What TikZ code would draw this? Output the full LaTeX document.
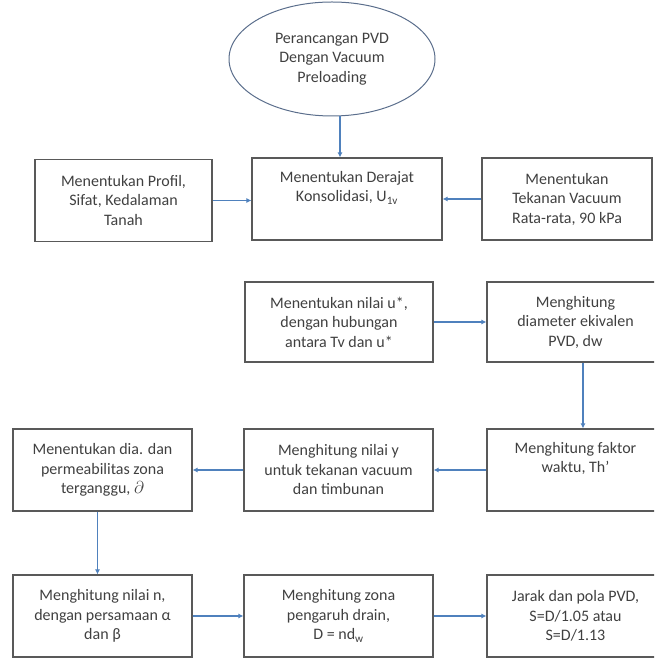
\documentclass[tikz,border=0pt]{standalone}
\usepackage{fontspec}
\setmainfont{Carlito}
\usetikzlibrary{arrows.meta,shapes.geometric}
\definecolor{boxline}{HTML}{595959}
\definecolor{flowblue}{HTML}{4F81BD}
\definecolor{txtgray}{HTML}{404040}
\definecolor{ovalline}{HTML}{5B6E8C}
\begin{document}
\begin{tikzpicture}[x=1pt, y=1pt,
  stage/.style={draw=boxline, line width=1.1pt, minimum height=82pt, inner sep=0pt,
    align=center, text=txtgray, font=\fontsize{16}{19.5}\selectfont},
  flow/.style={draw=flowblue, line width=1.1pt, -{Latex[length=5pt,width=5pt]}}]
  \useasboundingbox (0,0) rectangle (654,658);
  \clip (0,0) rectangle (654,658);

  % Start
  \node[ellipse, draw=ovalline, line width=1pt, minimum width=206pt, minimum height=114pt,
    inner sep=0pt, align=center, text=txtgray, font=\fontsize{16}{19.5}\selectfont]
    (start) at (332,599) {Perancangan PVD\\Dengan Vacuum\\Preloading};

  % Row 1
  \node[stage, minimum width=177pt] (profil) at (123.5,457.5) {Menentukan Profil,\\Sifat, Kedalaman\\Tanah};
  \node[stage, minimum width=190pt] (derajat) at (347,459) {Menentukan Derajat\\Konsolidasi, U\textsubscript{1v}\\\strut};
  \node[stage, minimum width=170pt] (tekanan) at (567,459) {Menentukan\\Tekanan Vacuum\\Rata-rata, 90 kPa};

  % Row 2
  \node[stage, minimum width=188pt, minimum height=80pt] (ustar) at (339,336) {Menentukan nilai u*,\\dengan hubungan\\antara Tv dan u*};
  \node[stage, minimum width=177pt, minimum height=80pt] (dw) at (575.5,336) {Menghitung\\diameter ekivalen\\PVD, dw};

  % Row 3
  \node[stage, minimum width=179pt] (smear) at (102.5,188) {Menentukan dia. dan\\permeabilitas zona\\terganggu, $\partial$};
  \node[stage, minimum width=189pt] (ynilai) at (338.5,188) {Menghitung nilai y\\untuk tekanan vacuum\\dan timbunan};
  \node[stage, minimum width=177pt] (th) at (575.5,188) {Menghitung faktor\\waktu, Th'\\\strut};

  % Row 4
  \node[stage, minimum width=179pt] (nilain) at (102.5,42) {Menghitung nilai n,\\dengan persamaan α\\dan β};
  \node[stage, minimum width=189pt] (zona) at (338.5,42) {Menghitung zona\\pengaruh drain,\\D = nd\textsubscript{w}};
  \node[stage, minimum width=177pt] (jarak) at (575.5,42) {Jarak dan pola PVD,\\S=D/1.05 atau\\S=D/1.13};

  % Connectors
  \draw[flow] ([xshift=8pt]start.south) -- ([xshift=8pt]start.south |- derajat.north);
  \draw[flow] (profil.east) -- (profil.east -| derajat.west);
  \draw[flow] (tekanan.west) -- (tekanan.west -| derajat.east);
  \draw[flow] (ustar) -- (dw);
  \draw[flow] ([xshift=7.5pt]dw.south) -- ([xshift=7.5pt]dw.south |- th.north);
  \draw[flow] (th) -- (ynilai);
  \draw[flow] (ynilai) -- (smear);
  \draw[flow] ([xshift=-5pt]smear.south) -- ([xshift=-5pt]smear.south |- nilain.north);
  \draw[flow] (nilain) -- (zona);
  \draw[flow] (zona) -- (jarak);
\end{tikzpicture}
\end{document}
